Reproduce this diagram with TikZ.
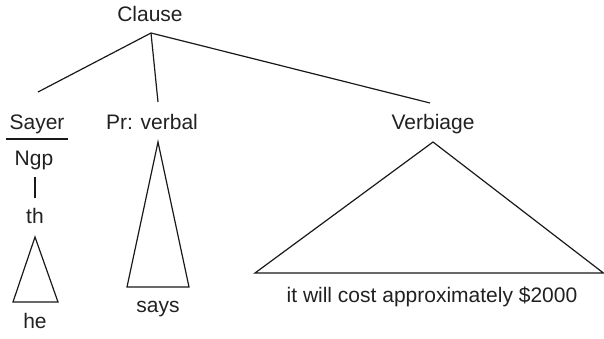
\documentclass[tikz,border=0pt]{standalone}
\usepackage{fontspec}
\setmainfont{Liberation Sans}
\begin{document}
\begin{tikzpicture}[x=1pt,y=-1pt,
  lbl/.style={anchor=base,inner sep=0pt,text=black!87,font=\fontsize{21}{25}\selectfont},
  ln/.style={draw=black!90,line width=1.2pt}]
\useasboundingbox (0,0) rectangle (604,338);
% labels
\node[lbl] (clause) at (150,21) {Clause};
\node[lbl] (sayer) at (37,129) {Sayer};
\node[lbl] (ngp) at (34,165) {Ngp};
\node[lbl] (th) at (35,223) {th};
\node[lbl] (he) at (35,328) {he};
\node[lbl] (pr) at (152,129) {Pr: verbal};
\node[lbl] (says) at (158,312) {says};
\node[lbl] (verb) at (433,129) {Verbiage};
\node[lbl] (cost) at (432,302) {it will cost approximately \$2000};
% tree coordinates
\coordinate (top) at (151,33);
\coordinate (e1) at (38,92);
\coordinate (e2) at (158,102);
\coordinate (e3) at (430,103);
\coordinate (ul1) at (6,139);
\coordinate (ul2) at (68,139);
\coordinate (v1) at (35,177);
\coordinate (v2) at (35,198);
\coordinate (t1a) at (35,237);
\coordinate (t1l) at (13,302);
\coordinate (t1r) at (58,302);
\coordinate (t2a) at (158,142);
\coordinate (t2l) at (127,287);
\coordinate (t2r) at (189,287);
\coordinate (t3a) at (433,142);
\coordinate (t3l) at (255,273);
\coordinate (t3r) at (603.4,273);
% connectors
\draw[ln] (top) -- (e1);
\draw[ln] (top) -- (e2);
\draw[ln] (top) -- (e3);
\draw[ln] (ul1) -- (ul2);
\draw[ln] (v1) -- (v2);
\draw[ln,line join=miter] (t1a) -- (t1r) -- (t1l) -- cycle;
\draw[ln,line join=miter] (t2a) -- (t2r) -- (t2l) -- cycle;
\draw[ln,line join=miter] (t3a) -- (t3r) -- (t3l) -- cycle;
\end{tikzpicture}
\end{document}
